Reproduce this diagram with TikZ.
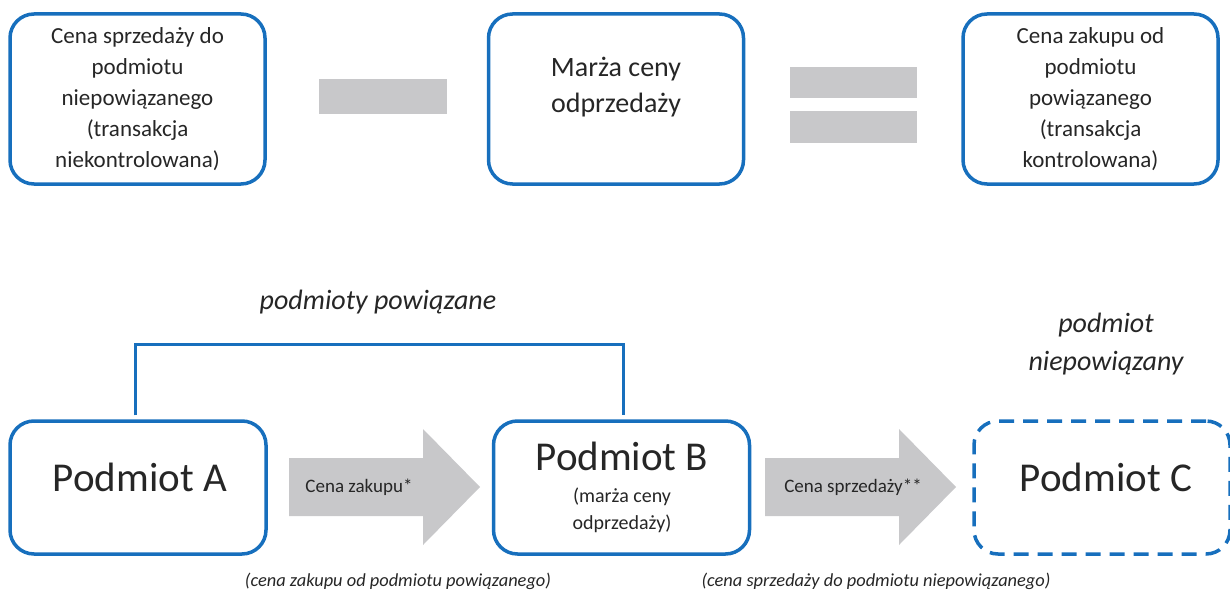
\documentclass[tikz,border=0pt]{standalone}
\usepackage{fontspec}
\setmainfont{Carlito}
\usepackage{tikz}
\usetikzlibrary{positioning}
\definecolor{boxblue}{RGB}{23, 111, 189}
\definecolor{signgray}{RGB}{200, 200, 202}
\definecolor{textgray}{RGB}{38, 38, 38}

\begin{document}
\begin{tikzpicture}[x=1pt, y=-1pt,
  box/.style={draw=boxblue, line width=3.5pt, rounded corners=24pt, inner sep=0pt, text=textgray},
  topbox/.style={box, minimum width=255pt, minimum height=170pt, align=center, font=\fontsize{23}{31}\selectfont},
  lowbox/.style={box, minimum width=256pt, minimum height=133pt},
  bigtext/.style={text=textgray, font=\fontsize{41}{48}\selectfont},
  note/.style={text=textgray, align=center, font=\fontsize{28}{38}\selectfont\itshape},
  smallnote/.style={text=textgray, font=\fontsize{18.4}{22}\selectfont\itshape},
  arrowtext/.style={text=textgray, font=\fontsize{19}{22}\selectfont},
  sign/.style={fill=signgray}]
  \path[use as bounding box, clip] (0,0) rectangle (1230,591);

  % formula row
  \node[topbox] (sale) at (137.5,99) {Cena sprzedaży do\\podmiotu\\niepowiązanego\\(transakcja\\niekontrolowana)};
  \node[topbox] (margin) at (616,99) {};
  \node[text=textgray, align=center, font=\fontsize{28}{36}\selectfont] (margintext) at (616,87) {Marża ceny\\odprzedaży};
  \node[topbox] (purchase) at (1090.5,99) {Cena zakupu od\\podmiotu\\powiązanego\\(transakcja\\kontrolowana)};
  \fill[sign] (319,79) rectangle (447,114);
  \fill[sign] (790,67) rectangle (917,98);
  \fill[sign] (790,111) rectangle (917,143);

  % entities
  \node[lowbox] (A) at (138,487.5) {};
  \node[bigtext] (Atext) at (140,477) {Podmiot A};
  \node[lowbox] (B) at (621.5,487.5) {};
  \node[bigtext] (Btext) at (622,456) {Podmiot B};
  \node[text=textgray, align=center, font=\fontsize{20}{27}\selectfont] (Bnote) at (622,510.5) {(marża ceny\\odprzedaży)};
  \node[lowbox, dashed, dash pattern=on 15pt off 9pt] (C) at (1102,487.5) {};
  \node[bigtext] (Ctext) at (1106,477) {Podmiot C};

  % related parties bracket
  \draw[boxblue, line width=3pt] ([xshift=-3pt, yshift=4pt]A.north) -- ([xshift=-3pt]A.north |- 0,344)
    -| ([xshift=1.5pt, yshift=4pt]B.north);
  \node[note] (related) at (378,302) {podmioty powiązane};
  \node[note] (unrelated) at (1106,344) {podmiot\\niepowiązany};

  % flow arrows
  \fill[sign] (289,458) -- (423,458) -- (423,429) -- (480,487) -- (423,545) -- (423,516) -- (289,516) -- cycle;
  \node[arrowtext] (buy) at (359,487) {Cena zakupu*};
  \fill[sign] (765,458) -- (899,458) -- (899,429) -- (956,487) -- (899,545) -- (899,516) -- (765,516) -- cycle;
  \node[arrowtext] (sell) at (853,487) {Cena sprzedaży**};

  \node[smallnote] (buynote) at (398,581) {(cena zakupu od podmiotu powiązanego)};
  \node[smallnote] (sellnote) at (876,581) {(cena sprzedaży do podmiotu niepowiązanego)};
\end{tikzpicture}
\end{document}
